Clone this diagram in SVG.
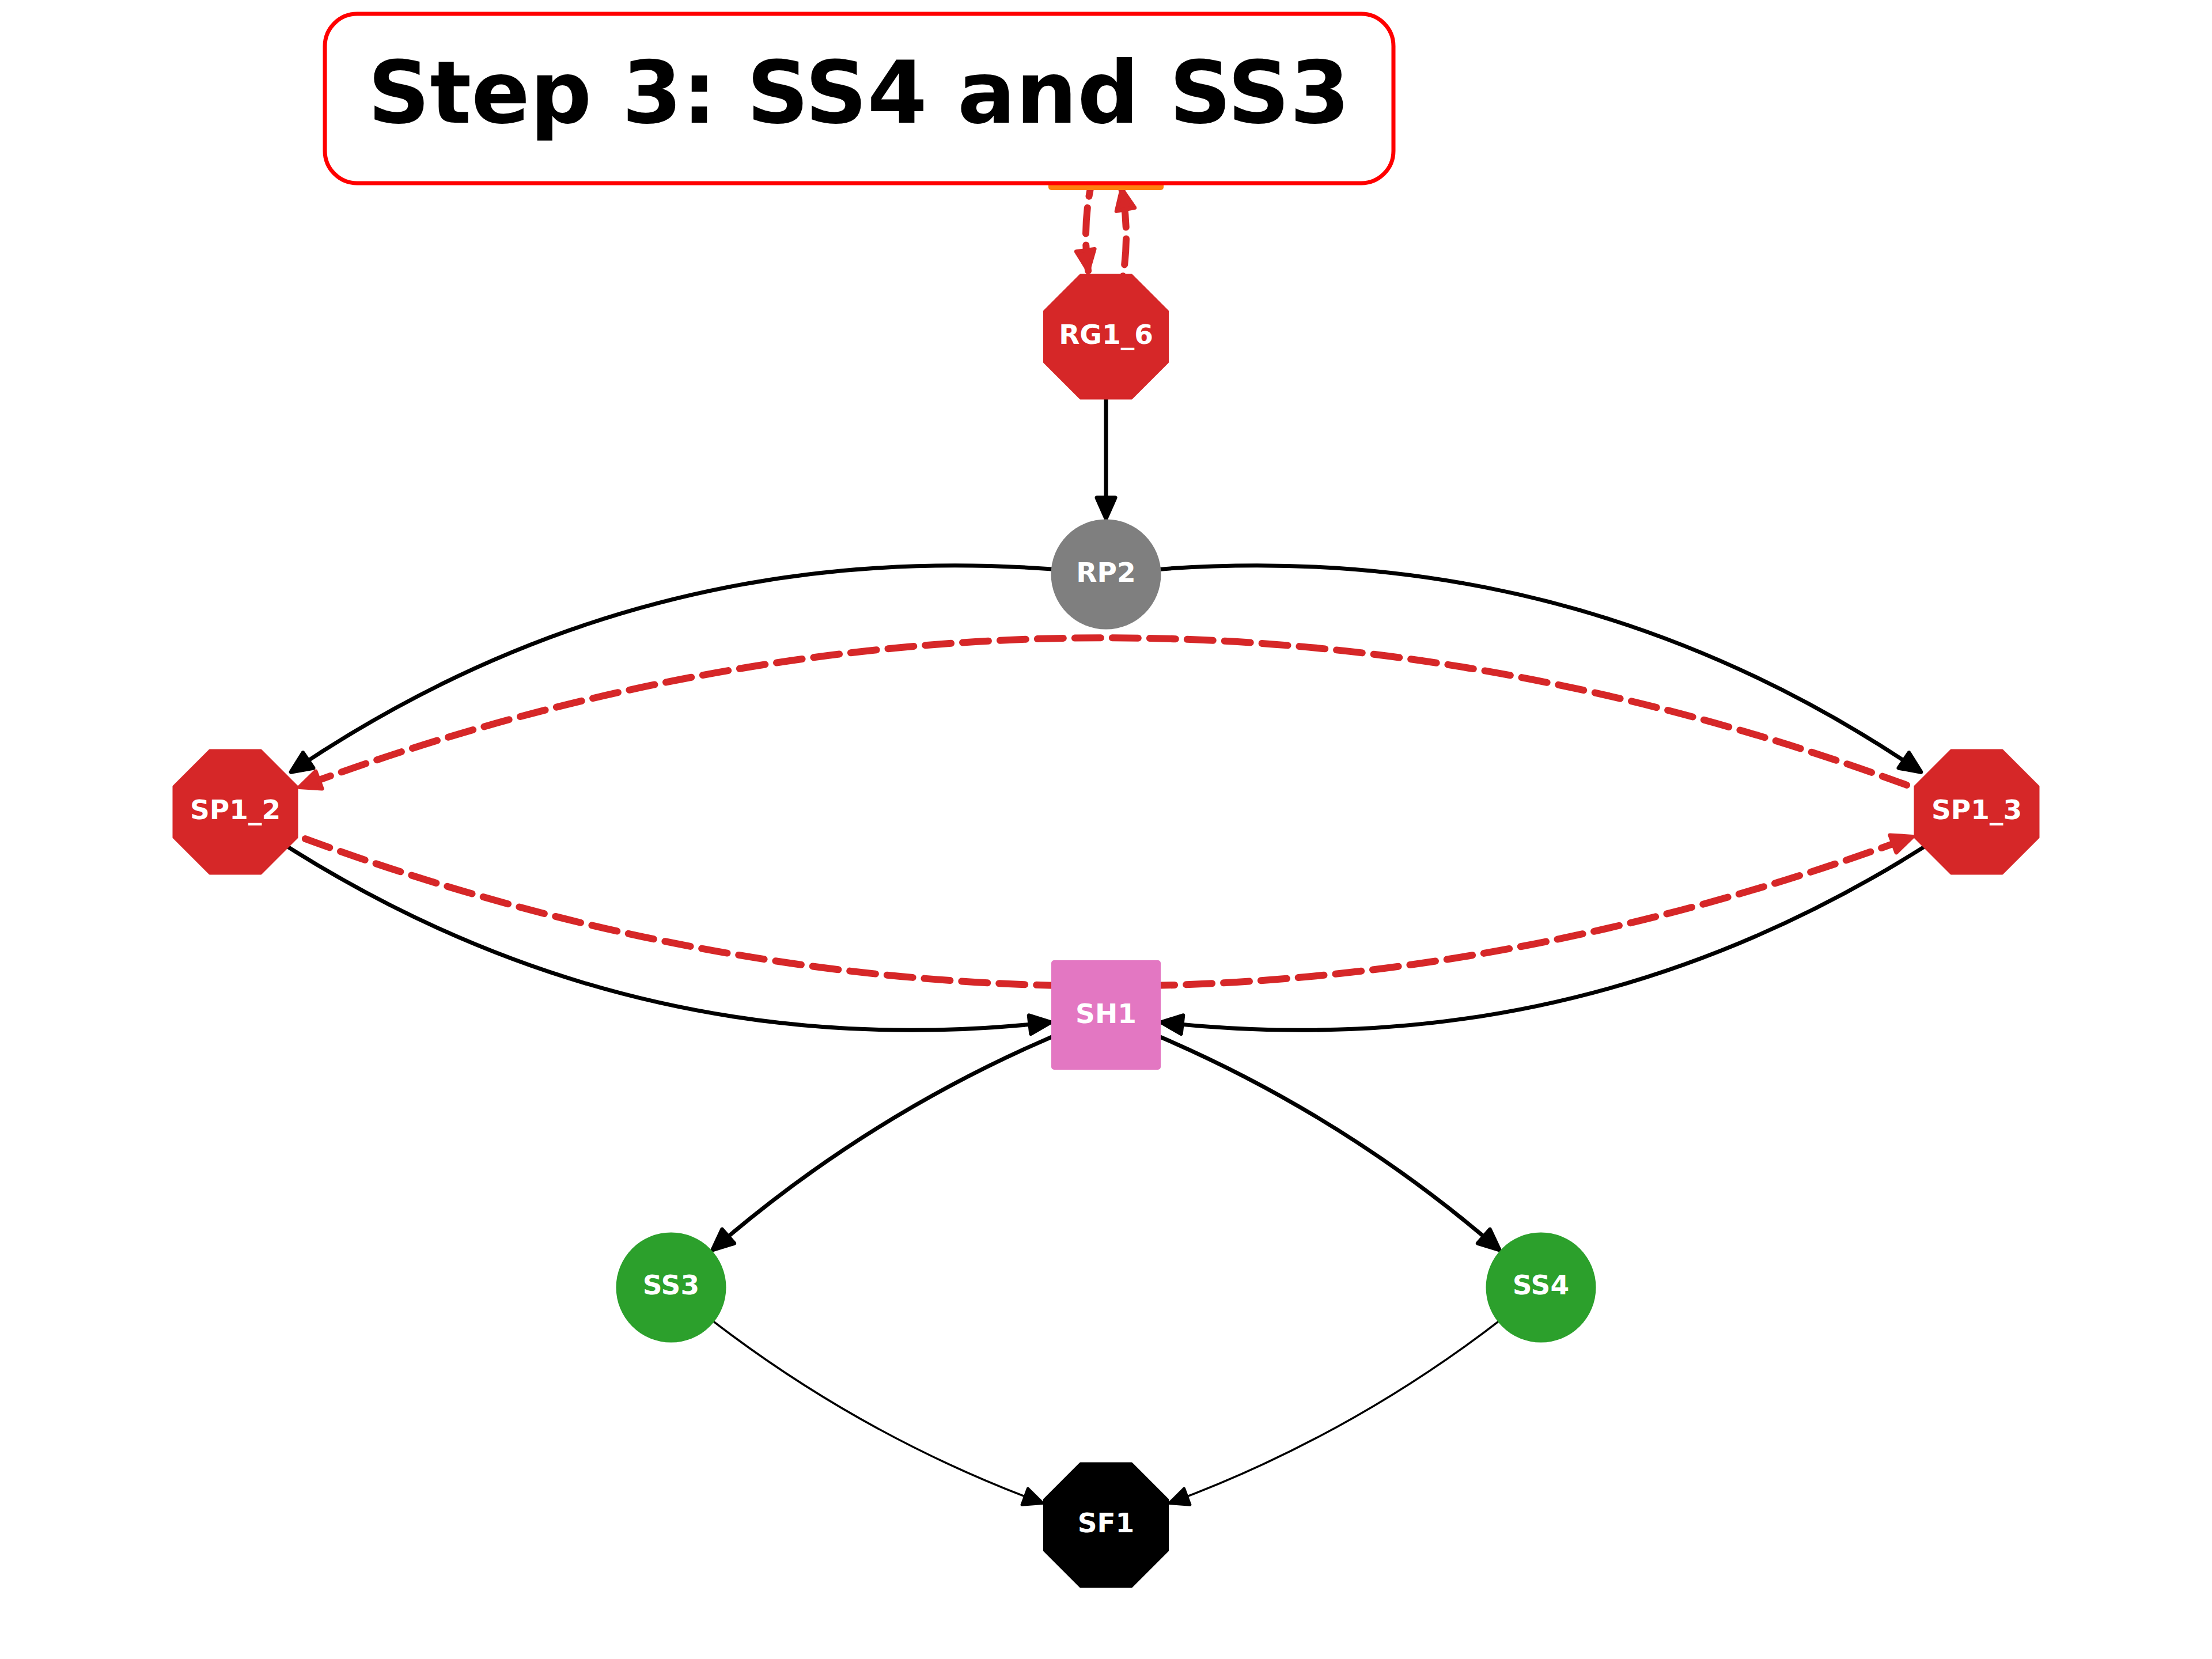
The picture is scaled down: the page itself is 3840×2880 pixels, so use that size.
<svg xmlns="http://www.w3.org/2000/svg" width="3840" height="2880" viewBox="0 0 3840 2880">
<style>
.edge{fill:none;stroke:#000;stroke-width:7}
.thin{fill:none;stroke:#000;stroke-width:3.5}
.dash{fill:none;stroke:#d62728;stroke-width:12;stroke-dasharray:45 20;stroke-linecap:round}
.lbl{font-family:"DejaVu Sans","Liberation Sans",sans-serif;font-weight:bold;font-size:47px;fill:#fff;text-anchor:middle}
.oct{stroke-width:3;stroke-linejoin:round}
</style>
<defs>
<marker id="ah" markerUnits="userSpaceOnUse" orient="auto" refX="0" refY="0" overflow="visible">
<polygon points="0,0 -36,-16 -36,16" fill="#000" stroke="#000" stroke-width="7" stroke-linejoin="round"/>
</marker>
<marker id="ahr" markerUnits="userSpaceOnUse" orient="auto" refX="0" refY="0" overflow="visible">
<polygon points="0,0 -36,-16 -36,16" fill="#d62728" stroke="#d62728" stroke-width="7" stroke-linejoin="round"/>
</marker>
<marker id="aht" markerUnits="userSpaceOnUse" orient="auto" refX="0" refY="0" overflow="visible">
<polygon points="0,0 -33,-15 -33,15" fill="#000" stroke="#000" stroke-width="5" stroke-linejoin="round"/>
</marker>
</defs>
<rect width="3840" height="2880" fill="#fff"/>
<g id="connectors">
<path class="dash" d="M1920,235 Q1873,352.6 1889.1,470.2" marker-end="url(#ahr)"/>
<path class="dash" d="M1920,585 Q1971.4,456.5 1947.3,328.1" marker-end="url(#ahr)"/>
<path class="edge" d="M1920,584 L1920,900" marker-end="url(#ah)"/>
<path class="edge" d="M1920,997 Q1141.4,907.8 505.2,1340.2" marker-end="url(#ah)"/>
<path class="edge" d="M1920,997 Q2698.6,907.8 3334.8,1340.2" marker-end="url(#ah)"/>
<path class="dash" d="M3431.5,1409.5 Q1975.6,827.2 519.8,1366.6" marker-end="url(#ahr)"/>
<path class="dash" d="M408.5,1409.5 Q1864.4,1991.8 3320.2,1452.4" marker-end="url(#ahr)"/>
<path class="edge" d="M408.5,1409.5 Q1053.7,1860.1 1823.8,1774.7" marker-end="url(#ah)"/>
<path class="edge" d="M3431.5,1409.5 Q2786.3,1860.1 2016.2,1774.7" marker-end="url(#ah)"/>
<path class="edge" d="M1920,1762 Q1540.7,1905.8 1236.9,2169.9" marker-end="url(#ah)"/>
<path class="edge" d="M1920,1762 Q2299.3,1905.8 2603.1,2169.9" marker-end="url(#ah)"/>
<path class="thin" d="M1165,2235 Q1456.6,2479.1 1810.2,2609.6" marker-end="url(#aht)"/>
<path class="thin" d="M2675,2235 Q2383.4,2479.1 2029.8,2609.6" marker-end="url(#aht)"/>
</g>
<g id="node-top">
<rect x="1820" y="136" width="200" height="194" rx="5" fill="#ff7f0e"/>
</g>
<g id="node-RG1_6">
<polygon class="oct" points="1875.5,477 1964.5,477 2027.5,540 2027.5,629 1964.5,692 1875.5,692 1812.5,629 1812.5,540" fill="#d62728" stroke="#d62728"/>
<text class="lbl" x="1920" y="597">RG1_6</text>
</g>
<g id="node-RP2">
<circle cx="1920" cy="997" r="95.5" fill="#7f7f7f"/>
<text class="lbl" x="1920" y="1010">RP2</text>
</g>
<g id="node-SP1_2">
<polygon class="oct" points="364,1302 453,1302 516,1365 516,1454 453,1517 364,1517 301,1454 301,1365" fill="#d62728" stroke="#d62728"/>
<text class="lbl" x="408.5" y="1422">SP1_2</text>
</g>
<g id="node-SP1_3">
<polygon class="oct" points="3387,1302 3476,1302 3539,1365 3539,1454 3476,1517 3387,1517 3324,1454 3324,1365" fill="#d62728" stroke="#d62728"/>
<text class="lbl" x="3431.5" y="1422">SP1_3</text>
</g>
<g id="node-SH1">
<rect x="1825" y="1667" width="190" height="190" rx="5" fill="#e377c2"/>
<text class="lbl" x="1920" y="1776">SH1</text>
</g>
<g id="node-SS3">
<circle cx="1165" cy="2235" r="95.5" fill="#2ca02c"/>
<text class="lbl" x="1165" y="2247">SS3</text>
</g>
<g id="node-SS4">
<circle cx="2675" cy="2235" r="95.5" fill="#2ca02c"/>
<text class="lbl" x="2675" y="2247">SS4</text>
</g>
<g id="node-SF1">
<polygon class="oct" points="1875.5,2540 1964.5,2540 2027.5,2603 2027.5,2692 1964.5,2755 1875.5,2755 1812.5,2692 1812.5,2603" fill="#000" stroke="#000"/>
<text class="lbl" x="1920" y="2660">SF1</text>
</g>
<g id="title">
<rect x="564" y="24" width="1855" height="294" rx="56" fill="#fff" stroke="#ff0000" stroke-width="7"/>
<text x="1491" y="213" font-family="DejaVu Sans, Liberation Sans, sans-serif" font-weight="bold" font-size="150" text-anchor="middle" fill="#000">Step 3: SS4 and SS3</text>
</g>
</svg>
